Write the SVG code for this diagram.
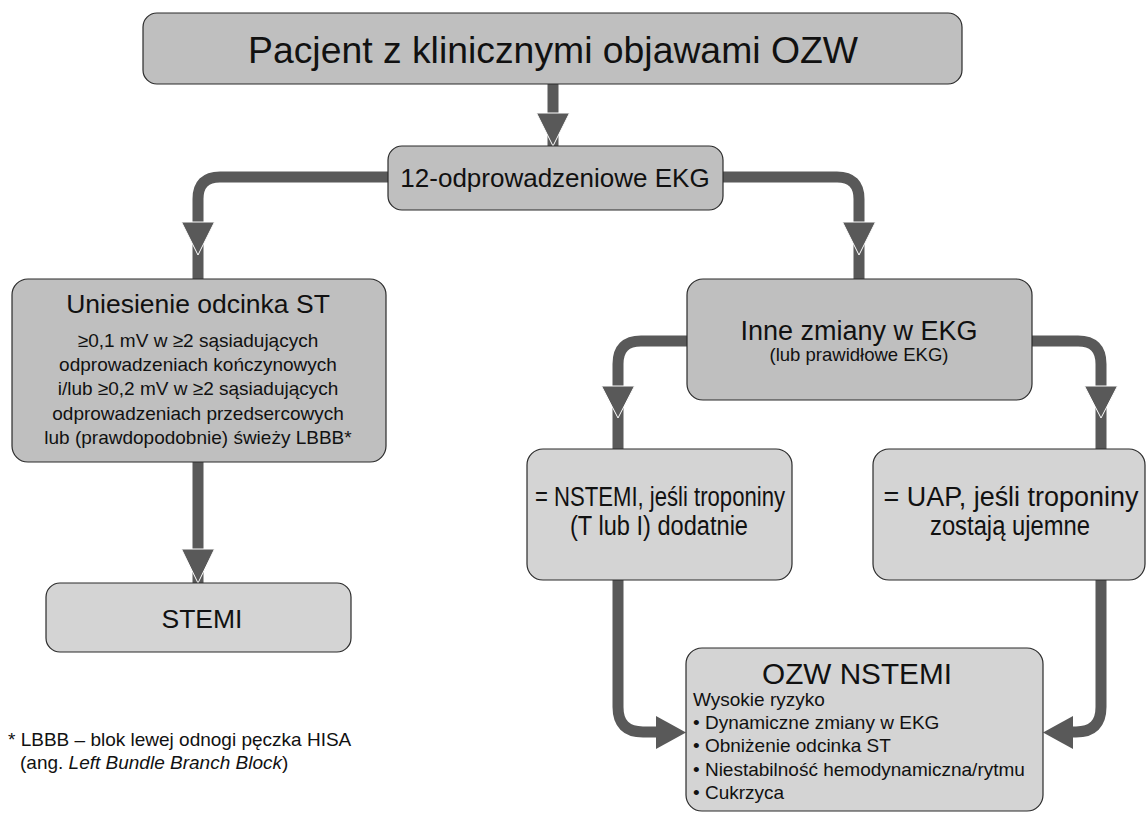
<svg xmlns="http://www.w3.org/2000/svg" width="1148" height="814" viewBox="0 0 1148 814">
<style>
.dark{fill:#bfbfbf;stroke:#2b2b2b;stroke-width:1.2}
.light{fill:#d4d4d4;stroke:#2b2b2b;stroke-width:1.2}
text{font-family:"Liberation Sans",Arial,sans-serif;fill:#111}
.c{text-anchor:middle}
.con{fill:none;stroke:#595959;stroke-width:11}
.ah{fill:#595959;stroke:#ffffff;stroke-width:1}
.ah2{fill:#595959;stroke:none}
</style>
<rect width="1148" height="814" fill="#ffffff"/>
<g id="connectors">
<path class="con" d="M553 84 V146"/>
<path class="con" d="M388 177 H220 Q198 177 198 199 V279"/>
<path class="con" d="M723 177 H837 Q859 177 859 199 V279"/>
<path class="con" d="M198 462 V583"/>
<path class="con" d="M687 341 H641 Q618 341 618 364 V449"/>
<path class="con" d="M1032 341 H1078 Q1101 341 1101 364 V449"/>
<path class="con" d="M618 580 V707 Q618 732 643 732 H658"/>
<path class="con" d="M1101 580 V707 Q1101 732 1076 732 H1071"/>
<polygon class="ah" points="536.5,113 569.5,113 553,146"/>
<polygon class="ah" points="181.5,222 214.5,222 198,255"/>
<polygon class="ah" points="842.5,222 875.5,222 859,255"/>
<polygon class="ah" points="181.5,549 214.5,549 198,583"/>
<polygon class="ah" points="601.5,386 634.5,386 618,418"/>
<polygon class="ah" points="1084.5,386 1117.5,386 1101,418"/>
<polygon class="ah2" points="656,716 656,749 686,732.5"/>
<polygon class="ah2" points="1073,716 1073,749 1043,732.5"/>
</g>
<g id="n-pacjent">
<rect class="dark" x="143" y="13" width="819" height="71" rx="14"/>
<text class="c" x="553" y="63" font-size="37" textLength="610" lengthAdjust="spacingAndGlyphs">Pacjent z klinicznymi objawami OZW</text>
</g>
<g id="n-ekg">
<rect class="dark" x="388" y="146" width="335" height="64" rx="14"/>
<text class="c" x="555" y="187" font-size="26">12-odprowadzeniowe EKG</text>
</g>
<g id="n-uniesienie">
<rect class="dark" x="12" y="279" width="374" height="183" rx="16"/>
<text class="c" x="198" y="313" font-size="26.5">Uniesienie odcinka ST</text>
<text class="c" x="198" y="347" font-size="19">≥0,1 mV w ≥2 sąsiadujących</text>
<text class="c" x="198" y="371" font-size="19">odprowadzeniach kończynowych</text>
<text class="c" x="198" y="395" font-size="19">i/lub ≥0,2 mV w ≥2 sąsiadujących</text>
<text class="c" x="198" y="420" font-size="19">odprowadzeniach przedsercowych</text>
<text class="c" x="198" y="444" font-size="19">lub (prawdopodobnie) świeży LBBB*</text>
</g>
<g id="n-stemi">
<rect class="light" x="46" y="583" width="305" height="69" rx="14"/>
<text class="c" x="202" y="628" font-size="26.5">STEMI</text>
</g>
<g id="footnote">
<text x="8" y="746" font-size="19">* LBBB – blok lewej odnogi pęczka HISA</text>
<text x="20" y="769" font-size="19">(ang. <tspan font-style="italic">Left Bundle Branch Block</tspan>)</text>
</g>
<g id="n-inne">
<rect class="dark" x="687" y="279" width="345" height="121" rx="16"/>
<text class="c" x="859" y="340" font-size="27">Inne zmiany w EKG</text>
<text class="c" x="859" y="361" font-size="18.5">(lub prawidłowe EKG)</text>
</g>
<g id="n-nstemi">
<rect class="light" x="527" y="449" width="265" height="131" rx="16"/>
<text class="c" x="660" y="506" font-size="27" textLength="250" lengthAdjust="spacingAndGlyphs">= NSTEMI, jeśli troponiny</text>
<text class="c" x="659" y="535" font-size="27" textLength="178" lengthAdjust="spacingAndGlyphs">(T lub I) dodatnie</text>
</g>
<g id="n-uap">
<rect class="light" x="873" y="449" width="272" height="131" rx="16"/>
<text class="c" x="1011" y="506" font-size="27" textLength="255" lengthAdjust="spacingAndGlyphs">= UAP, jeśli troponiny</text>
<text class="c" x="1010" y="535" font-size="27" textLength="160" lengthAdjust="spacingAndGlyphs">zostają ujemne</text>
</g>
<g id="n-ozw">
<rect class="light" x="686" y="648" width="357" height="163" rx="16"/>
<text class="c" x="857" y="684" font-size="29" textLength="190" lengthAdjust="spacingAndGlyphs">OZW NSTEMI</text>
<text x="693" y="706" font-size="19">Wysokie ryzyko</text>
<text x="693" y="729" font-size="19">• Dynamiczne zmiany w EKG</text>
<text x="693" y="752" font-size="19">• Obniżenie odcinka ST</text>
<text x="693" y="776" font-size="19">• Niestabilność hemodynamiczna/rytmu</text>
<text x="693" y="799" font-size="19">• Cukrzyca</text>
</g>
</svg>
